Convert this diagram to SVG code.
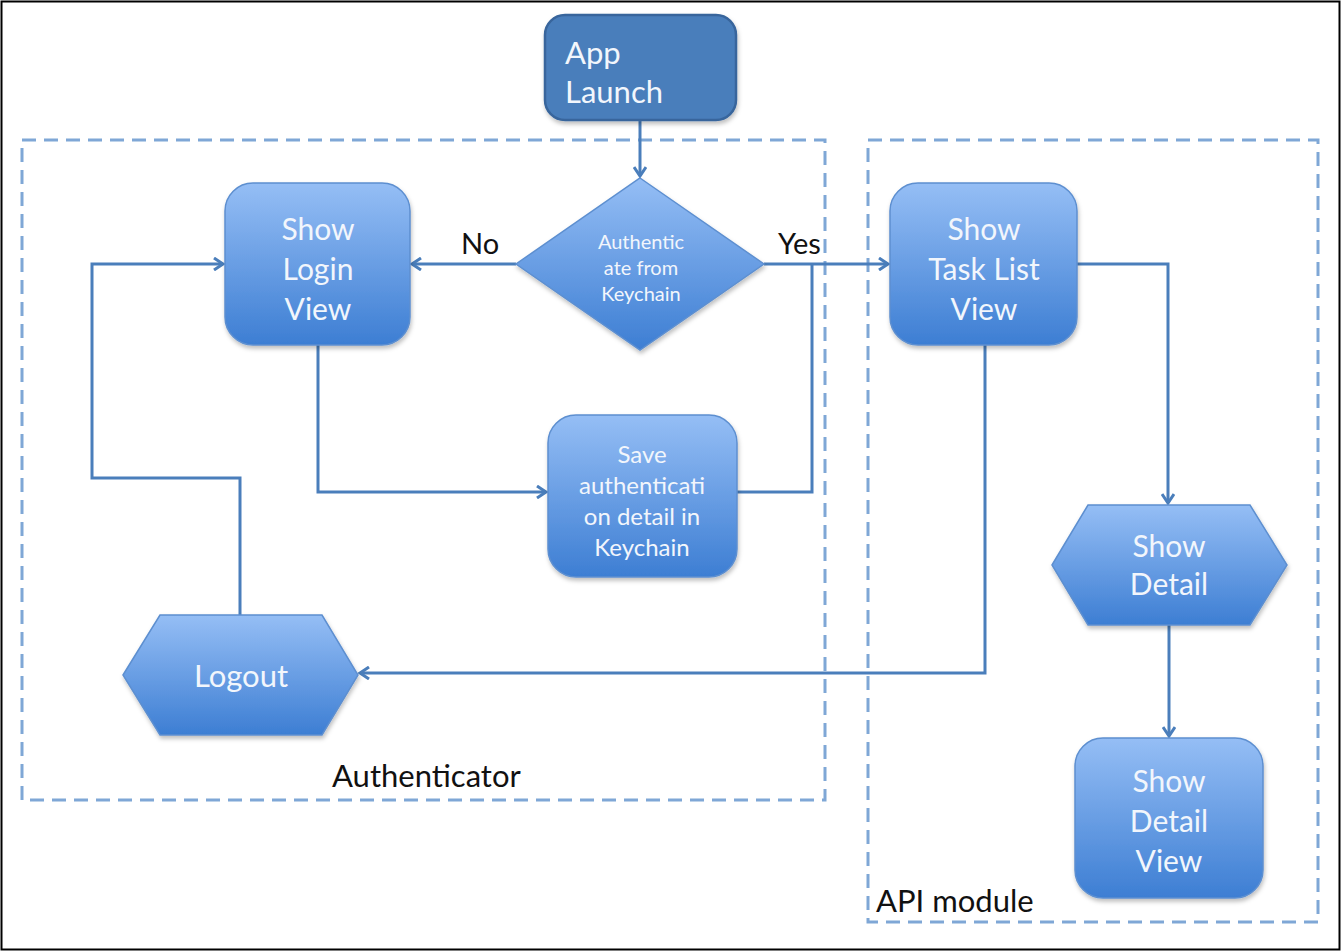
<svg xmlns="http://www.w3.org/2000/svg" width="1341" height="951" viewBox="0 0 1341 951">
<defs>
<linearGradient id="g" x1="0" y1="0" x2="0" y2="1">
<stop offset="0" stop-color="#95bef5"/>
<stop offset="1" stop-color="#3d7ed3"/>
</linearGradient>
<marker id="arr" markerWidth="14" markerHeight="14" refX="11" refY="7" orient="auto" markerUnits="userSpaceOnUse">
<path d="M2,1 L11,7 L2,13" fill="none" stroke="#4a7ebb" stroke-width="3"/>
</marker>
<filter id="sh" x="-10%" y="-10%" width="130%" height="130%">
<feDropShadow dx="1" dy="3" stdDeviation="2" flood-color="#000" flood-opacity="0.25"/>
</filter>
</defs>
<style>
.node{fill:url(#g);stroke:#5d8fd0;stroke-width:1.5;filter:url(#sh)}
.t{font-family:Lato,"Open Sans",sans-serif;fill:#f2f6fc;text-anchor:middle;dominant-baseline:central}
.lbl{font-family:Lato,"Open Sans",sans-serif;fill:#111;dominant-baseline:central}
.grp{fill:none;stroke:#7fa7d6;stroke-width:3;stroke-dasharray:14 8}
.c{fill:none;stroke:#4a7ebb;stroke-width:3}
</style>
<rect x="0" y="0" width="1341" height="951" fill="#fff"/>
<rect x="1.5" y="1.5" width="1338" height="948" fill="none" stroke="#000" stroke-width="2"/>

<g id="group-authenticator">
<rect class="grp" x="22" y="140" width="803" height="660"/>
<text class="lbl" x="332" y="775" font-size="31">Authenticator</text>
</g>
<g id="group-api">
<rect class="grp" x="868" y="140" width="450" height="782"/>
<text class="lbl" x="876" y="900" font-size="31">API module</text>
</g>

<g id="connectors">
<path class="c" d="M640,120 L640,176" marker-end="url(#arr)"/>
<path class="c" d="M516,264 L412,264" marker-end="url(#arr)"/>
<path class="c" d="M764,264 L888,264" marker-end="url(#arr)"/>
<path class="c" d="M318,345 L318,492 L546,492" marker-end="url(#arr)"/>
<path class="c" d="M737,492 L812,492 L812,264"/>
<path class="c" d="M1077,264 L1168,264 L1168,503" marker-end="url(#arr)"/>
<path class="c" d="M985,345 L985,673 L360,673" marker-end="url(#arr)"/>
<path class="c" d="M1169,625 L1169,736" marker-end="url(#arr)"/>
<path class="c" d="M240,615 L240,478 L92,478 L92,264 L223,264" marker-end="url(#arr)"/>
<text class="lbl" x="461" y="242" font-size="29">No</text>
<text class="lbl" x="778" y="242" font-size="29">Yes</text>
</g>

<g id="app-launch">
<rect x="545" y="15" width="191" height="105" rx="20" fill="#4a7ebb" stroke="#37659c" stroke-width="2.5" filter="url(#sh)"/>
<text class="t" x="565" y="52" font-size="31" style="text-anchor:start">App</text>
<text class="t" x="565" y="91" font-size="31" style="text-anchor:start">Launch</text>
</g>

<g id="decision">
<polygon class="node" points="640,178 764,264 640,350 516,264"/>
<text class="t" x="641" y="241" font-size="20">Authentic</text>
<text class="t" x="641" y="267" font-size="20">ate from</text>
<text class="t" x="641" y="293" font-size="20">Keychain</text>
</g>

<g id="show-login">
<rect class="node" x="225" y="183" width="185" height="162" rx="28"/>
<text class="t" x="318" y="228" font-size="30">Show</text>
<text class="t" x="318" y="268" font-size="30">Login</text>
<text class="t" x="318" y="308" font-size="30">View</text>
</g>

<g id="show-task-list">
<rect class="node" x="890" y="183" width="187" height="162" rx="28"/>
<text class="t" x="984" y="228" font-size="30">Show</text>
<text class="t" x="984" y="268" font-size="30">Task List</text>
<text class="t" x="984" y="308" font-size="30">View</text>
</g>

<g id="save-auth">
<rect class="node" x="548" y="415" width="189" height="162" rx="28"/>
<text class="t" x="642" y="453" font-size="24">Save</text>
<text class="t" x="642" y="484" font-size="24">authenticati</text>
<text class="t" x="642" y="515" font-size="24">on detail in</text>
<text class="t" x="642" y="546" font-size="24">Keychain</text>
</g>

<g id="logout">
<polygon class="node" points="123,675 160,615 322,615 358,675 322,735 160,735"/>
<text class="t" x="241" y="675" font-size="31">Logout</text>
</g>

<g id="show-detail">
<polygon class="node" points="1052,565 1088,505 1250,505 1287,565 1250,625 1088,625"/>
<text class="t" x="1169" y="545" font-size="30">Show</text>
<text class="t" x="1169" y="583" font-size="30">Detail</text>
</g>

<g id="show-detail-view">
<rect class="node" x="1075" y="738" width="188" height="160" rx="28"/>
<text class="t" x="1169" y="780" font-size="30">Show</text>
<text class="t" x="1169" y="820" font-size="30">Detail</text>
<text class="t" x="1169" y="860" font-size="30">View</text>
</g>
</svg>
